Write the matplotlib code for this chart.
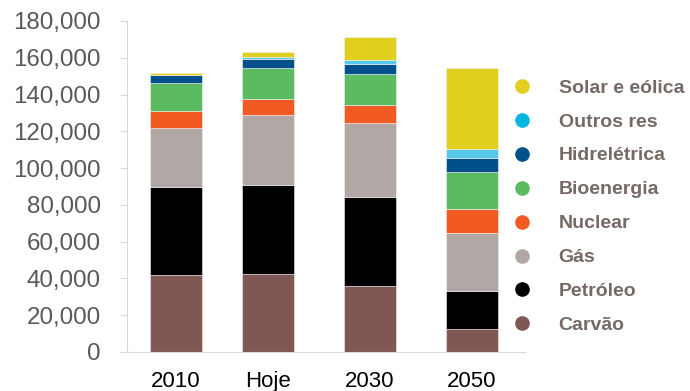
import matplotlib
matplotlib.use("Agg")
import matplotlib.pyplot as plt
from matplotlib.lines import Line2D
from matplotlib.ticker import FuncFormatter
import numpy as np

# Energy supply by source (stacked, bottom to top)
categories = ["2010", "Hoje", "2030", "2050"]
positions = [0.0, 0.9, 1.9, 2.9]

sources = ["Carvão", "Petróleo", "Gás", "Nuclear", "Bioenergia",
           "Hidrelétrica", "Outros res", "Solar e eólica"]

carvao = [42000, 42400, 35900, 12500]
petroleo = [47800, 48400, 48600, 20800]
gas = [32100, 38100, 40000, 31400]
nuclear = [8900, 8700, 9800, 13200]
bioenergia = [15600, 16900, 16900, 20000]
hidreletrica = [4200, 4900, 5400, 7600]
outros_res = [300, 1100, 2200, 4900]
solar_eolica = [700, 2900, 12300, 43900]

series = [carvao, petroleo, gas, nuclear, bioenergia,
          hidreletrica, outros_res, solar_eolica]
colors = ["#7f5753", "#000000", "#b1a8a6", "#f15a22", "#5cbb61",
          "#00508c", "#56c8ea", "#e0cf1f"]
legend_colors = ["#7f5753", "#000000", "#b1a8a6", "#f15a22", "#5cbb61",
                 "#00508c", "#00b7e2", "#e0cf1f"]

fig = plt.figure(figsize=(6.9, 3.91), dpi=100)
ax = fig.add_axes([127 / 690, 1 - 352 / 391, (525 - 127) / 690, (352 - 21) / 391])

bottom = np.zeros(len(categories))
for vals, col in zip(series, colors):
    ax.bar(positions, vals, width=0.51, bottom=bottom, color=col,
           edgecolor="#f2f2f2", linewidth=0.4)
    bottom += np.array(vals)

ax.set_ylim(0, 180000)
ax.set_xlim(-0.48, 3.42)
ax.set_yticks(np.arange(0, 180001, 20000))
ax.yaxis.set_major_formatter(FuncFormatter(lambda v, p: f"{int(v):,}"))
ax.set_xticks(positions)
ax.set_xticklabels(categories)

for side in ["top", "right"]:
    ax.spines[side].set_visible(False)
for side in ["left", "bottom"]:
    ax.spines[side].set_color("#d9d9d9")
    ax.spines[side].set_linewidth(0.8)

ax.tick_params(axis="y", length=5, color="#d9d9d9", labelsize=17.4,
               labelcolor="#595959", pad=14)
ax.tick_params(axis="x", length=0, labelsize=16, labelcolor="#000000", pad=14)
for lab in ax.get_xticklabels() + ax.get_yticklabels():
    lab.set_fontfamily("Liberation Sans")

handles = [Line2D([], [], linestyle="none", marker="o", markersize=9.5,
                  markerfacecolor=c, markeredgecolor=c)
           for c in legend_colors[::-1]]
fig.legend(handles, sources[::-1], loc="upper left",
           bbox_to_anchor=(512 / 690, 1 - 79 / 391),
           bbox_transform=fig.transFigure, frameon=False,
           borderpad=0, borderaxespad=0, handlelength=1.0,
           handletextpad=1.4, labelspacing=0.84,
           prop={"family": "Liberation Sans", "weight": "bold", "size": 14},
           labelcolor="#766a66")

fig.savefig("out.png", dpi=100)
